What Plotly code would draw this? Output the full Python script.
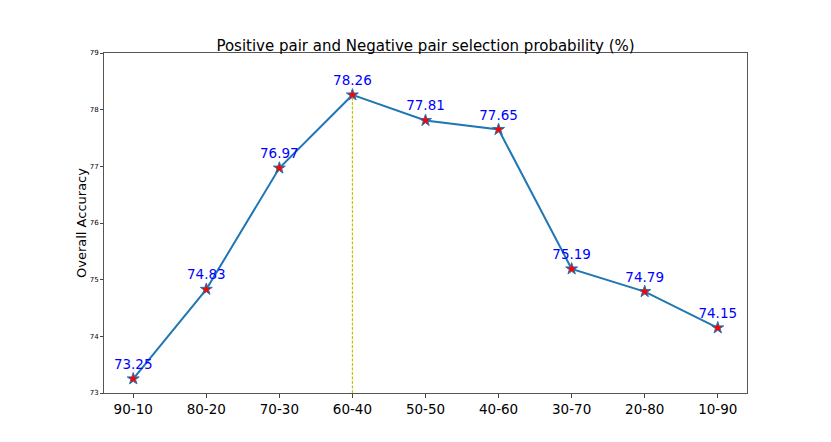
import plotly.graph_objects as go

# selection ratio (positive-negative) and accuracy
ratios = ['90-10', '80-20', '70-30', '60-40', '50-50', '40-60', '30-70', '20-80', '10-90']
accuracy = [73.25, 74.83, 76.97, 78.26, 77.81, 77.65, 75.19, 74.79, 74.15]
y_ticks = [73, 74, 75, 76, 77, 78, 79]

best = accuracy.index(max(accuracy))

fig = go.Figure()

# dashed marker line at the best split
fig.add_trace(go.Scatter(
    x=[best, best],
    y=[73, accuracy[best]],
    mode='lines',
    line=dict(color='#c8c000', width=1.2, dash='3px,1.5px'),
    hoverinfo='skip',
    showlegend=False
))

fig.add_trace(go.Scatter(
    x=list(range(len(ratios))),
    y=accuracy,
    mode='lines+markers+text',
    line=dict(color='#1f77b4', width=2),
    marker=dict(symbol='star', size=9, color='red',
                line=dict(color='#1f77b4', width=1)),
    text=[f'{v:.2f}' for v in accuracy],
    textposition='top center',
    textfont=dict(color='blue', size=13.5, family='DejaVu Sans'),
    showlegend=False
))

fig.update_layout(
    width=831, height=442,
    paper_bgcolor='white', plot_bgcolor='white',
    margin=dict(l=96, r=92, t=45, b=57),
    font=dict(family='DejaVu Sans', color='black'),
    title=dict(text='Positive pair and Negative pair selection probability (%)',
               x=0.5, xref='paper', xanchor='center', y=0.903, yanchor='bottom',
               font=dict(size=15)),
    xaxis=dict(
        range=[-0.4, len(ratios) - 1 + 0.4],
        tickmode='array', tickvals=list(range(len(ratios))), ticktext=ratios,
        tickfont=dict(size=13.5), ticks='outside', ticklen=4,
        showgrid=False, zeroline=False,
        showline=True, linecolor='#555', mirror=True, linewidth=1
    ),
    yaxis=dict(
        range=[73, 79], tickvals=y_ticks,
        tickfont=dict(size=7), ticks='outside', ticklen=3,
        title=dict(text='Overall Accuracy', font=dict(size=13), standoff=0),
        showgrid=False, zeroline=False,
        showline=True, linecolor='#555', mirror=True, linewidth=1
    )
)

fig.write_html('out.html')
